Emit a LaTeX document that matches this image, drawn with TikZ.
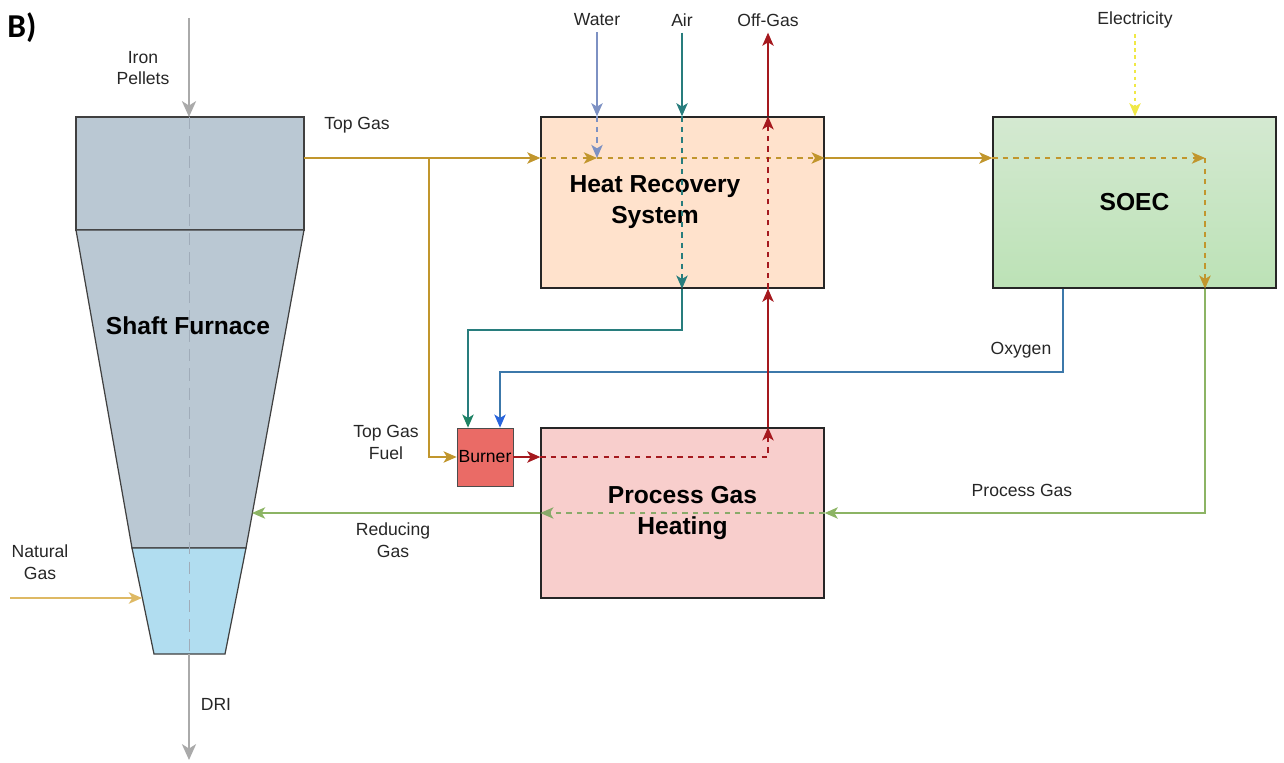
\documentclass[tikz,border=0pt]{standalone}
\usepackage{fontspec}
\setmainfont{Liberation Sans}
\newfontfamily\tagfont{Carlito}
\usetikzlibrary{arrows.meta}

\definecolor{shaftfill}{RGB}{186,200,211}
\definecolor{hearthfill}{RGB}{177,221,240}
\definecolor{hrsfill}{RGB}{255,226,204}
\definecolor{pghfill}{RGB}{248,206,204}
\definecolor{burnerfill}{RGB}{234,107,102}
\definecolor{soectop}{RGB}{212,233,209}
\definecolor{soecbot}{RGB}{188,226,182}
\definecolor{topgas}{RGB}{193,150,45}
\definecolor{procgas}{RGB}{140,180,100}
\definecolor{watercol}{RGB}{125,145,195}
\definecolor{aircol}{RGB}{40,125,125}
\definecolor{airtip}{RGB}{30,130,100}
\definecolor{oxycol}{RGB}{60,120,170}
\definecolor{oxytip}{RGB}{40,100,220}
\definecolor{fluecol}{RGB}{165,25,30}
\definecolor{eleccol}{RGB}{240,232,70}
\definecolor{natgas}{RGB}{222,185,100}
\definecolor{feedgray}{RGB}{170,170,170}
\definecolor{axisgray}{RGB}{160,172,185}

\begin{document}
\begin{tikzpicture}[
   x=0.02cm,y=-0.02cm,
   >={Stealth[length=7.5pt,width=6.5pt,inset=2pt]},
   unit/.style={draw=black!85,line width=0.8pt,minimum width=5.66cm,minimum height=3.42cm,
     font=\fontsize{14}{18}\selectfont\bfseries,align=center},
   lbl/.style={font=\fontsize{10}{11.5}\selectfont,text=black!85,align=center},
   flow/.style={line width=0.7pt,->},
   inner/.style={flow,dash pattern=on 3pt off 3pt},
   feed/.style={line width=1.4pt,feedgray,-{Stealth[length=9pt,width=8pt,inset=2.5pt]}}
 ]
  \useasboundingbox (0,0) rectangle (1284,763);
  \node[font=\tagfont\fontsize{19}{22}\selectfont\bfseries] (tag) at (22,28) {B)};

  % shaft furnace
  \filldraw[fill=shaftfill,draw=black!75,line width=0.7pt] (76,117) rectangle (304,230);
  \filldraw[fill=shaftfill,draw=black!75,line width=0.7pt] (76,230) -- (304,230) -- (246,548) -- (132,548) -- cycle;
  \filldraw[fill=hearthfill,draw=black!75,line width=0.7pt] (132,548) -- (246,548) -- (225,654) -- (154,654) -- cycle;
  \draw[axisgray,line width=0.5pt,dash pattern=on 7pt off 4pt] (189,117) -- (189,654);
  \node[font=\fontsize{14}{18}\selectfont\bfseries] (sf) at (188,326) {Shaft Furnace};

  \coordinate (feedin) at (189,18);
  \coordinate (ftop) at (189,117);
  \coordinate (fbot) at (189,654);
  \coordinate (dri) at (189,760);
  \coordinate (tg) at (304,158);
  \coordinate (tgb) at (429,158);
  \coordinate (ng) at (10,598);
  \coordinate (ngin) at (142,598);
  \coordinate (rg) at (252,513);
  \coordinate (wj) at (597,158);
  \coordinate (ej) at (1205,158);
  \coordinate (fj) at (768,457);
  \coordinate (airturn) at (682,330);
  \coordinate (o2turn) at (1063,372);

  % units
  \node[unit,fill=hrsfill] (hrs) at (682.5,202.5) {};
  \node[font=\fontsize{14}{18}\selectfont\bfseries,align=center] (hrstxt) at (655,202) {Heat Recovery\\System};
  \node[unit,top color=soectop,bottom color=soecbot] (soec) at (1134.5,202.5) {SOEC};
  \node[unit,fill=pghfill,minimum height=3.4cm] (pgh) at (682.5,513) {Process Gas\\Heating};
  \node[draw=black!70,fill=burnerfill,minimum width=1.12cm,minimum height=1.16cm,inner sep=0pt,
    font=\fontsize{10}{12}\selectfont] (burner) at (485,457) {Burner};

  % labels
  \node[lbl] (pellets) at (143,68) {Iron\\Pellets};
  \node[lbl] (toplbl) at (357,125) {Top Gas};
  \node[lbl] (water) at (597,20) {Water};
  \node[lbl] (air) at (682,20) {Air};
  \node[lbl] (offgas) at (768,20) {Off-Gas};
  \node[lbl] (elec) at (1135,20) {Electricity};
  \node[lbl] (o2lbl) at (1021,350) {Oxygen};
  \node[lbl,font=\fontsize{10}{12.5}\selectfont] (fuellbl) at (386,442) {Top Gas\\Fuel};
  \node[lbl] (pglbl) at (1022,490) {Process Gas};
  \node[lbl,font=\fontsize{10}{12.5}\selectfont] (rglbl) at (393,540) {Reducing\\Gas};
  \node[lbl,font=\fontsize{10}{12.5}\selectfont] (nglbl) at (40,562) {Natural\\Gas};
  \node[lbl] (drilbl) at (216,704) {DRI};

  % solids and natural gas
  \draw[feed] (feedin) -- (ftop);
  \draw[feed] (fbot) -- (dri);
  \draw[flow,natgas,line width=1.1pt] (ng) -- (ngin);

  % top gas
  \draw[flow,topgas] (tg) -- (hrs.west |- tg);
  \draw[flow,topgas] (tgb) |- (burner.west);
  \draw[inner,topgas] (hrs.west |- tg) -- (wj);
  \draw[inner,topgas] (wj) -- (hrs.east |- tg);
  \draw[flow,topgas] (hrs.east |- tg) -- (soec.west |- tg);
  \draw[inner,topgas] (soec.west |- tg) -- (ej);
  \draw[inner,topgas] (ej) -- (ej |- soec.south);

  % process gas
  \draw[flow,procgas] (ej |- soec.south) |- (pgh.east);
  \draw[inner,procgas!80!gray] (pgh.east) -- (pgh.west);
  \draw[flow,procgas] (pgh.west) -- (rg);

  % water and air
  \draw[flow,watercol] (water.south) -- (water.south |- hrs.north);
  \draw[inner,watercol] (water.south |- hrs.north) -- (wj);
  \draw[flow,aircol] (air.south) -- (air.south |- hrs.north);
  \draw[inner,aircol] (air.south |- hrs.north) -- (air.south |- hrs.south);
  \draw[line width=0.7pt,aircol,-{Stealth[length=7.5pt,width=6.5pt,inset=2pt,color=airtip]}]
    (air.south |- hrs.south) -- (airturn) -| ([xshift=-0.34cm]burner.north);

  % oxygen
  \draw[line width=0.7pt,oxycol,-{Stealth[length=7.5pt,width=6.5pt,inset=2pt,color=oxytip]}]
    (o2turn |- soec.south) -- (o2turn) -| ([xshift=0.3cm]burner.north);

  % flue gas
  \draw[flow,fluecol] (burner.east) -- (pgh.west |- burner.east);
  \draw[inner,fluecol] (pgh.west |- burner.east) -- (fj) -- (fj |- pgh.north);
  \draw[flow,fluecol] (fj |- pgh.north) -- (fj |- hrs.south);
  \draw[inner,fluecol] (fj |- hrs.south) -- (fj |- hrs.north);
  \draw[flow,fluecol] (fj |- hrs.north) -- (offgas.south);

  % electricity
  \draw[flow,eleccol,dash pattern=on 2pt off 2pt] (elec.south) -- (elec.south |- soec.north);
 \end{tikzpicture}
\end{document}
